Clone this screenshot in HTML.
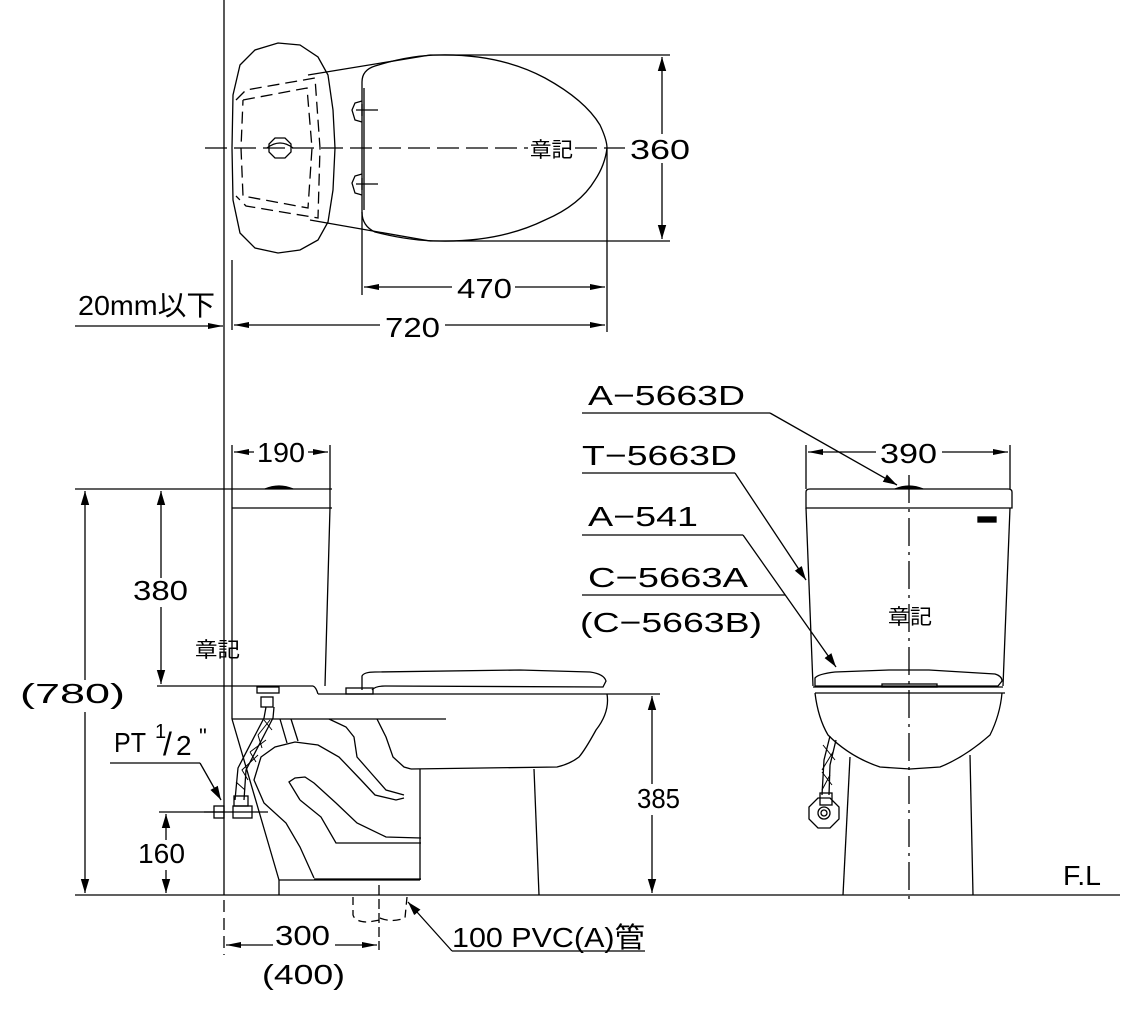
<!DOCTYPE html>
<html><head><meta charset="utf-8"><style>
html,body{margin:0;padding:0;background:#fff;}
svg{display:block;}
text{font-family:"Liberation Sans","Noto Sans CJK JP",sans-serif;fill:#000;}
</style></head><body>
<svg width="1145" height="1017" viewBox="0 0 1145 1017" xmlns="http://www.w3.org/2000/svg">
<defs>
<marker id="ar" viewBox="0 0 10 4" refX="10" refY="2" markerWidth="16" markerHeight="6" markerUnits="userSpaceOnUse" orient="auto"><path d="M0,0 L10,2 L0,4 Z" fill="#000"/></marker>
<marker id="ar2" viewBox="0 0 10 6" refX="10" refY="3" markerWidth="14" markerHeight="9" markerUnits="userSpaceOnUse" orient="auto"><path d="M0,0 L10,3 L0,6 Z" fill="#000"/></marker>
</defs>
<g fill="none" stroke="#000" stroke-width="1.3">
<line x1="224" y1="0" x2="224" y2="895"/>
<line x1="224" y1="900" x2="224" y2="955" stroke-dasharray="12,6"/>
<line x1="232" y1="260" x2="232" y2="330"/>
<polygon points="278,43 300,45 318,57 328,75 333,110 335,148 333,190 328,222 318,240 300,250 278,253 255,248 240,233 233,200 232,148 233,95 240,65 255,50"/>
<polyline points="236,100 246,90 315,78 320,148 318,218 246,206 236,196" stroke-dasharray="12,6"/>
<polyline points="243,100 307,88 312,148 308,208 243,196 241,148 243,100" stroke-dasharray="12,6"/>
<polygon points="275,138 285,138 291,144 291,152 285,158 275,158 269,152 269,144"/>
<path d="M267,148 Q280,138 293,148"/>
<line x1="308" y1="75" x2="430" y2="55"/>
<line x1="310" y1="220" x2="430" y2="241"/>
<path d="M362,82 Q362,70 375,66 Q410,55 440,55 Q500,54 545,78 Q585,100 600,125 Q607,140 607,148 Q605,165 595,180 Q580,205 545,220 Q500,242 440,241 Q410,241 375,232 Q362,226 362,212 Z"/>
<line x1="364" y1="88" x2="364" y2="210"/>
<path d="M362,101 L355,103 L352,110 L355,120 L362,122"/>
<path d="M362,174 L355,176 L352,183 L355,193 L362,195"/>
<line x1="356" y1="110" x2="378" y2="110"/><line x1="362" y1="104" x2="362" y2="116"/>
<line x1="356" y1="184" x2="378" y2="184"/><line x1="362" y1="178" x2="362" y2="190"/>
<line x1="205" y1="148" x2="528" y2="148" stroke-dasharray="22,7"/>
<line x1="575" y1="148" x2="625" y2="148" stroke-dasharray="22,7"/>
<line x1="430" y1="55" x2="670" y2="55"/>
<line x1="430" y1="241" x2="670" y2="241"/>
<line x1="662" y1="134" x2="662" y2="57" marker-end="url(#ar2)"/>
<line x1="662" y1="163" x2="662" y2="239" marker-end="url(#ar2)"/>
<line x1="362" y1="212" x2="362" y2="295"/>
<line x1="607" y1="148" x2="607" y2="332"/>
<line x1="452" y1="287" x2="364" y2="287" marker-end="url(#ar)"/>
<line x1="515" y1="287" x2="605" y2="287" marker-end="url(#ar)"/>
<line x1="380" y1="325" x2="234" y2="325" marker-end="url(#ar)"/>
<line x1="445" y1="325" x2="605" y2="325" marker-end="url(#ar)"/>
<line x1="75" y1="326" x2="223" y2="326" marker-end="url(#ar)"/>
<line x1="75" y1="895" x2="1120" y2="895"/>
<line x1="75" y1="489" x2="332" y2="489"/>
<line x1="232" y1="508" x2="332" y2="508"/>
<line x1="232" y1="445" x2="232" y2="489"/><line x1="330" y1="445" x2="330" y2="489"/>
<line x1="232" y1="489" x2="232" y2="719"/>
<polyline points="330,489 330,508 325,686"/>
<path d="M265,489 Q279,483 293,489" fill="#000"/>
<line x1="157" y1="686" x2="313" y2="686"/>
<path d="M313,686 Q316,687 318,694"/>
<line x1="318" y1="694" x2="607" y2="694"/>
<path d="M362,690 L362,676 Q364,672 375,672 L520,670 L590,672 Q604,674 606,681 L603,687 L385,686 Q375,686 372,690"/>
<rect x="346" y="688" width="27" height="6"/>
<path d="M607,694 Q610,712 596,730 Q585,750 579,757 Q570,764 557,767 L411,769"/>
<line x1="534" y1="769" x2="539" y2="895"/>
<line x1="420" y1="769" x2="420" y2="880"/>
<line x1="279" y1="880" x2="420" y2="880"/>
<line x1="279" y1="880" x2="279" y2="895"/>
<line x1="232" y1="719" x2="446" y2="719"/>
<line x1="232" y1="719" x2="279" y2="880"/>
<polyline points="314,878 300,847 286,823 264,803 254,780 261,757 275,747 295,742 318,745 339,757 361,780 375,795 396,800 404,798"/>
<line x1="314" y1="879" x2="421" y2="879"/>
<polyline points="300,800 289,782 295,778 305,777 314,783 336,803 357,823 386,837 421,838"/>
<polyline points="300,800 321,817 336,843 421,843"/>
<line x1="280" y1="719" x2="287" y2="743"/>
<line x1="291" y1="719" x2="298" y2="741"/>
<polyline points="329,719 346,727 354,737 357,757 371,773 386,790 404,795"/>
<polyline points="377,719 386,737 393,757 404,767 411,769"/>
<rect x="257" y="687" width="22" height="6"/>
<rect x="261" y="697" width="12" height="10"/>
<path d="M266,707 L264,718 L238,768 L235,800 M274,707 L273,718 L246,770 L244,800"/>
<path d="M264,720 L272,730 M270,720 L258,735 M258,735 L262,748 M266,740 L250,752 M250,752 L256,762 M258,755 L242,770 L248,780 M236,782 L245,790" stroke-width="1"/>
<rect x="234" y="796" width="14" height="10"/>
<rect x="214" y="806" width="10" height="12"/>
<rect x="233" y="806" width="19" height="12"/>
<line x1="204" y1="812" x2="268" y2="812"/>
<line x1="110" y1="763" x2="200" y2="763"/>
<line x1="200" y1="763" x2="221" y2="800" marker-end="url(#ar2)"/>
<line x1="161" y1="578" x2="161" y2="491" marker-end="url(#ar2)"/>
<line x1="161" y1="607" x2="161" y2="684" marker-end="url(#ar2)"/>
<line x1="85" y1="680" x2="85" y2="491" marker-end="url(#ar2)"/>
<line x1="85" y1="712" x2="85" y2="893" marker-end="url(#ar2)"/>
<line x1="159" y1="812" x2="224" y2="812"/>
<line x1="166" y1="840" x2="166" y2="814" marker-end="url(#ar2)"/>
<line x1="166" y1="870" x2="166" y2="893" marker-end="url(#ar2)"/>
<line x1="254" y1="452" x2="234" y2="452" marker-end="url(#ar)"/>
<line x1="308" y1="452" x2="328" y2="452" marker-end="url(#ar)"/>
<line x1="607" y1="694" x2="660" y2="694"/>
<line x1="652" y1="784" x2="652" y2="696" marker-end="url(#ar2)"/>
<line x1="652" y1="815" x2="652" y2="893" marker-end="url(#ar2)"/>
<path d="M353,897 L353,915 Q355,922 368,922 L380,920 M380,918 Q392,923 405,918 L407,897" stroke-dasharray="8,5"/>
<line x1="379" y1="885" x2="379" y2="950" stroke-dasharray="10,4"/>
<line x1="273" y1="945" x2="226" y2="945" marker-end="url(#ar)"/>
<line x1="335" y1="945" x2="377" y2="945" marker-end="url(#ar)"/>
<line x1="452" y1="951" x2="645" y2="951"/>
<line x1="452" y1="951" x2="408" y2="902" marker-end="url(#ar2)"/>
<line x1="806" y1="445" x2="806" y2="489"/><line x1="1010" y1="445" x2="1010" y2="489"/>
<line x1="876" y1="452" x2="808" y2="452" marker-end="url(#ar)"/>
<line x1="942" y1="452" x2="1008" y2="452" marker-end="url(#ar)"/>
<path d="M806,508 L806,492 Q806,489 810,489 L1008,489 Q1012,489 1012,492 L1012,508 Z"/>
<line x1="806" y1="508" x2="813" y2="686"/>
<line x1="1010" y1="508" x2="1003" y2="686"/>
<path d="M895,489 Q909,483 923,489" fill="#000"/>
<path d="M815,686 L815,678 Q818,674 835,672 L889,670 L929,670 L995,674 Q1002,676 1002,681 L998,686 Z"/>
<line x1="813" y1="687" x2="1003" y2="687"/>
<rect x="882" y="684" width="55" height="3"/>
<path d="M815,693 L1005,693 M815,693 Q818,718 828,735 Q850,757 880,767 L910,769 L940,767 Q965,757 990,735 Q1000,715 1002,693"/>
<line x1="850" y1="757" x2="843" y2="895"/>
<line x1="970" y1="755" x2="973" y2="895"/>
<path d="M830,736 L824,760 L822,795 M836,740 L830,765 L829,795"/>
<path d="M823,745 L835,760 M833,752 L822,770 M822,772 L832,785 M830,775 L822,790" stroke-width="1"/>
<rect x="820" y="793" width="12" height="12"/>
<polygon points="818,798 830,798 839,807 839,819 830,828 818,828 809,819 809,807"/>
<circle cx="824" cy="813" r="6"/><circle cx="824" cy="813" r="3"/>
<line x1="909" y1="475" x2="909" y2="905" stroke-dasharray="28,6,3,6"/>
<rect x="978" y="517" width="18" height="5" fill="#000"/>
<line x1="582" y1="413" x2="770" y2="413"/>
<line x1="770" y1="413" x2="897" y2="485" marker-end="url(#ar2)"/>
<line x1="582" y1="473" x2="735" y2="473"/>
<line x1="735" y1="473" x2="806" y2="580" marker-end="url(#ar2)"/>
<line x1="582" y1="535" x2="743" y2="535"/>
<line x1="743" y1="535" x2="836" y2="667" marker-end="url(#ar2)"/>
<line x1="582" y1="595" x2="785" y2="595"/>
</g>
<g font-size="28">
<text x="630" y="159" textLength="60" lengthAdjust="spacingAndGlyphs">360</text>
<text x="457" y="298" textLength="55" lengthAdjust="spacingAndGlyphs">470</text>
<text x="385" y="337" textLength="55" lengthAdjust="spacingAndGlyphs">720</text>
<text x="78" y="315" textLength="137" lengthAdjust="spacingAndGlyphs">20mm以下</text>
<text x="257" y="462" textLength="48" lengthAdjust="spacingAndGlyphs">190</text>
<text x="880" y="463" textLength="57" lengthAdjust="spacingAndGlyphs">390</text>
<text x="133" y="600" textLength="55" lengthAdjust="spacingAndGlyphs">380</text>
<text x="20" y="703" textLength="105" lengthAdjust="spacingAndGlyphs">(780)</text>
<text x="637" y="808" textLength="43" lengthAdjust="spacingAndGlyphs">385</text>
<text x="138" y="863" textLength="47" lengthAdjust="spacingAndGlyphs">160</text>
<text x="275" y="945" textLength="55" lengthAdjust="spacingAndGlyphs">300</text>
<text x="262" y="984" textLength="83" lengthAdjust="spacingAndGlyphs">(400)</text>
<text x="452" y="947" textLength="193" lengthAdjust="spacingAndGlyphs">100 PVC(A)管</text>
<text x="114" y="752" textLength="32" lengthAdjust="spacingAndGlyphs">PT</text>
<text x="155" y="738" font-size="20">1</text>
<text x="163" y="755" font-size="32">/</text>
<text x="176" y="755" font-size="28">2</text>
<text x="199" y="744" font-size="22">"</text>
<text x="1063" y="885" textLength="38" lengthAdjust="spacingAndGlyphs">F.L</text>
<text x="588" y="405" textLength="157" lengthAdjust="spacingAndGlyphs">A−5663D</text>
<text x="582" y="465" textLength="155" lengthAdjust="spacingAndGlyphs">T−5663D</text>
<text x="588" y="526" textLength="110" lengthAdjust="spacingAndGlyphs">A−541</text>
<text x="588" y="587" textLength="160" lengthAdjust="spacingAndGlyphs">C−5663A</text>
<text x="580" y="632" textLength="182" lengthAdjust="spacingAndGlyphs">(C−5663B)</text>
</g>
<g font-size="21">
<text x="530" y="157" textLength="43" lengthAdjust="spacingAndGlyphs">章記</text>
<text x="195" y="657" textLength="45" lengthAdjust="spacingAndGlyphs">章記</text>
<text x="888" y="624" textLength="44" lengthAdjust="spacingAndGlyphs">章記</text>
</g>
</svg>
</body></html>
